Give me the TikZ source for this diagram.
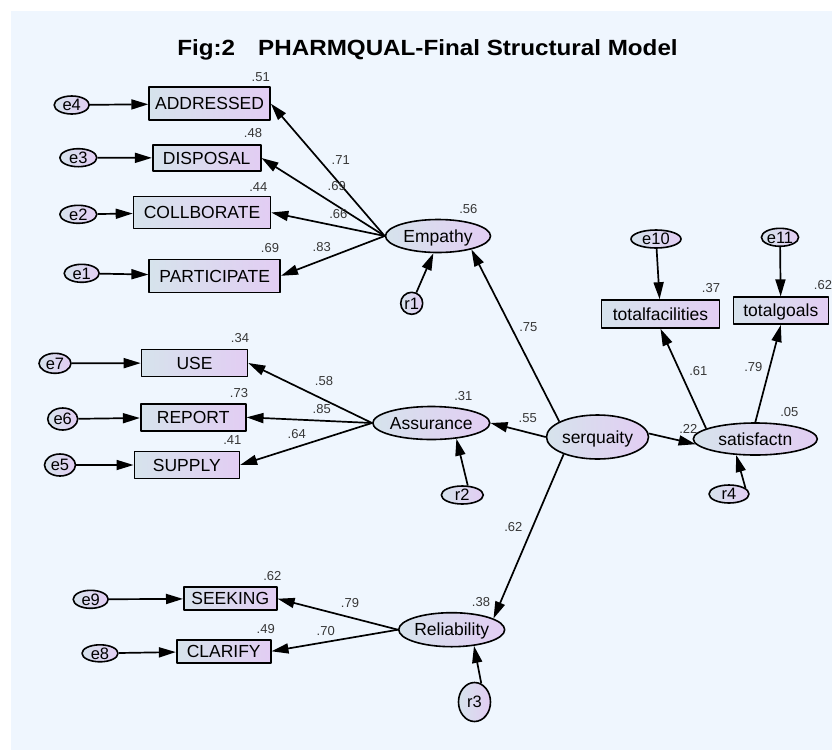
\documentclass[tikz,border=0pt]{standalone}
\usepackage{fontspec}
\setmainfont{Liberation Sans}
\usetikzlibrary{shapes.geometric,arrows.meta}

\definecolor{bgblue}{RGB}{239,246,254}
\definecolor{shadeL}{RGB}{214,227,236}
\definecolor{shadeR}{RGB}{226,205,243}
\definecolor{numgray}{RGB}{55,55,55}

\tikzset{
  amos/.style={draw=black, line width=1.6pt, left color=shadeL, right color=shadeR, inner sep=0pt},
  obsbox/.style={amos, rectangle, font=\fontsize{17.5}{20}\selectfont, text height=12.5pt, text depth=0pt},
  latent/.style={amos, ellipse, font=\fontsize{17.5}{20}\selectfont, text height=12.5pt, text depth=0pt},
  errvar/.style={amos, ellipse, font=\fontsize{16.5}{18}\selectfont, text height=11.8pt, text depth=0pt},
  coef/.style={inner sep=0pt, text=numgray, font=\fontsize{13}{15}\selectfont},
  regpath/.style={-{Triangle[length=17pt,width=10pt]}, line width=1.7pt}
}

\begin{document}
\begin{tikzpicture}[
  x=1pt, y=-1pt, % pixel size, y grows downward
  line join=round
]
  % ---- background ----
  \useasboundingbox (0,0) rectangle (832,750);
  \fill[bgblue] (11,11) rectangle (832,750);

  % ---- title ----
  \node[font=\bfseries\fontsize{22}{26}\selectfont, xscale=1.1, anchor=base, inner sep=0pt] (title)
    at (427.5,55.7) {Fig:2\hspace{21pt}PHARMQUAL-Final Structural Model};

  % ---- observed variables: name/x/y/width/height/text ----
  \foreach \n/\x/\y/\w/\h/\txt in {
    add/209.6/103.7/121/33/ADDRESSED,
    dis/206.7/158/108/26/DISPOSAL,
    col/202/212.5/137/32/COLLBORATE,
    par/214.7/275.8/131/33/PARTICIPATE,
    use/194.5/363/106/27/USE,
    rep/193.2/417.3/105/27/REPORT,
    sup/186.8/465/105/27/SUPPLY,
    see/230.3/598.7/93/23/SEEKING,
    cla/223.7/651.3/94/23/CLARIFY,
    tfa/660.5/314/118/28/totalfacilities,
    tgo/780.8/310.7/95/27/totalgoals
  }{
    \node[obsbox, minimum width=\w pt, minimum height=\h pt] (\n) at (\x,\y) {\txt};
  }

  % ---- latent variables ----
  \foreach \n/\x/\y/\w/\h/\txt in {
    emp/438/236/105/33/Empathy,
    ass/431.3/423/110/33/Assurance,
    rel/451.7/629.7/100/34/Reliability,
    serq/597.5/437/102/44/serquaity,
    sat/755.3/439/124/32/satisfactn
  }{
    \node[latent, minimum width=\w pt, minimum height=\h pt] (\n) at (\x,\y) {\txt};
  }

  % ---- error and residual terms ----
  \foreach \n/\x/\y/\w/\h in {
    e4/71.7/105/35/18, e3/78.3/157.7/37/18, e2/78.3/214.3/37/18, e1/81.7/273.3/35/18,
    e7/55/363.3/32/20, e6/62.7/419/30/22, e5/60/465/31/22,
    e9/90.7/599.3/35/18, e8/100/653.3/36/17,
    e10/656/239/50/18, e11/780/237.3/34/18,
    r1/411.7/303.3/22/22, r2/462.3/495/42/18, r3/474.5/702/32/39, r4/729/494/40/18
  }{
    \node[errvar, minimum width=\w pt, minimum height=\h pt] (\n) at (\x,\y) {\n};
  }

  % ---- error -> indicator ----
  \foreach \src/\dst in {e4/add, e3/dis, e2/col, e1/par, e7/use, e6/rep, e5/sup,
                         e9/see, e8/cla, e10/tfa, e11/tgo}{
    \draw[regpath] (\src) -- (\dst);
  }

  % ---- loadings ----
  \foreach \dst in {add, dis, col, par} \draw[regpath] (emp.west) -- (\dst.east);
  \foreach \dst in {use, rep, sup} \draw[regpath] (ass.west) -- (\dst.east);
  \foreach \dst in {see, cla} \draw[regpath] (rel.west) -- (\dst.east);
  \draw[regpath] (sat.168) -- (tfa.south);
  \draw[regpath] (sat.north) -- (tgo.south);

  % ---- structural paths ----
  \draw[regpath] (serq.158) -- (emp.-22);
  \draw[regpath] (serq.west) -- (ass.east);
  \draw[regpath] (serq.207) -- (rel.15);
  \draw[regpath] (serq.4) -- (sat.185);

  % ---- residuals -> latent ----
  \draw[regpath] (r1) -- (emp.-105);
  \draw[regpath] (r2.60) -- (ass.-32);
  \draw[regpath] (r3.70) -- (rel.-36);
  \draw[regpath] (r4.20) -- (sat.220);

  % ---- estimates ----
  \foreach \x/\y/\v in {
    260.7/76.7/.51, 253/133/.48, 258.3/186.7/.44, 270/248.3/.69,
    321.7/246.7/.83, 338.3/214/.66, 336.7/186/.69, 340.7/160/.71, 468.3/209.3/.56,
    240/338.3/.34, 239/392.7/.73, 232.3/440/.41,
    324/381/.58, 321.7/409/.85, 296.7/434.3/.64, 463.3/396/.31,
    528.3/326.7/.75, 527.7/418.3/.55, 513.3/527.3/.62, 481/601.7/.38,
    272.3/576/.62, 265.7/629.3/.49, 350/602.7/.79, 325.7/630.7/.70,
    711/288.3/.37, 823/285/.62, 698.3/371/.61, 753.3/366.7/.79,
    789.3/412.3/.05, 688.3/429/.22
  }{
    \node[coef] at (\x,\y) {\v};
  }

\end{tikzpicture}
\end{document}
